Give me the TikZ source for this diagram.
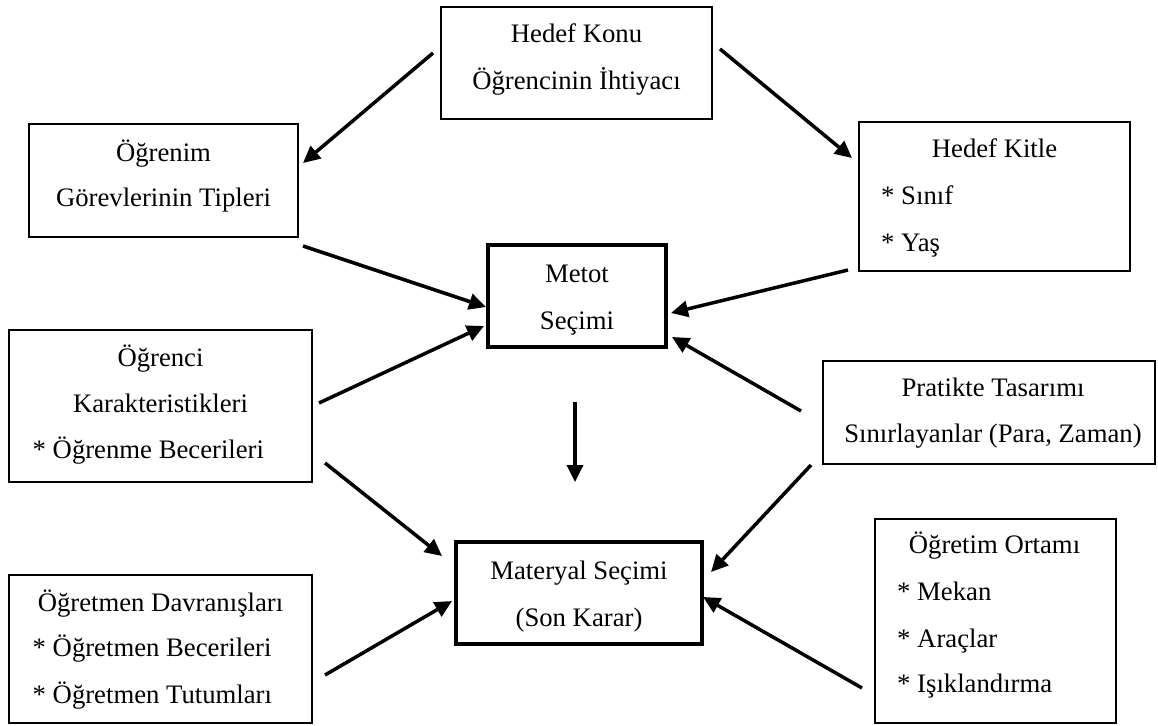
\documentclass[tikz,border=0pt]{standalone}
\usepackage{fontspec}
\setmainfont{Liberation Serif}
\usetikzlibrary{arrows.meta}
\newcommand\myfs{\fontsize{26.7}{32}\selectfont}
\tikzset{
  box/.style={draw, line width=2pt, inner sep=0pt, rectangle},
  thickbox/.style={draw, line width=4pt, inner sep=0pt, rectangle},
  lbl/.style={inner sep=0pt, font=\myfs, anchor=base},
  lbll/.style={inner sep=0pt, font=\myfs, anchor=base west},
  arr/.style={line width=3.5pt, -{Triangle[length=17pt,width=16pt]}}
}
\begin{document}
\begin{tikzpicture}[x=1pt,y=-1pt]
\useasboundingbox (0,0) rectangle (1158,725);
% boxes
\node[box, minimum width=271pt, minimum height=112pt] (konu) at (576.5,63) {};
\node[box, minimum width=269pt, minimum height=113pt] (ogrenim) at (163.5,180.5) {};
\node[box, minimum width=271pt, minimum height=149pt] (kitle) at (994.5,196.5) {};
\node[thickbox, minimum width=178pt, minimum height=102pt] (metot) at (577,296) {};
\node[box, minimum width=303pt, minimum height=152pt] (ogrenci) at (160.5,406) {};
\node[box, minimum width=303pt, minimum height=148pt] (ogretmen) at (160.5,649) {};
\node[thickbox, minimum width=246pt, minimum height=102pt] (materyal) at (579,593) {};
\node[box, minimum width=332pt, minimum height=103pt] (pratik) at (989,412.5) {};
\node[box, minimum width=241pt, minimum height=204pt] (ortam) at (995.5,621) {};
% texts
\node[lbl] (konu1) at (576.5,42) {Hedef Konu};
\node[lbl] (konu2) at (576.5,89) {Öğrencinin İhtiyacı};
\node[lbl] (ogrenim1) at (163.5,161) {Öğrenim};
\node[lbl] (ogrenim2) at (163.5,206) {Görevlerinin Tipleri};
\node[lbl] (kitle1) at (994.5,157) {Hedef Kitle};
\node[lbll] (kitle2) at (881,204) {* Sınıf};
\node[lbll] (kitle3) at (881,251) {* Yaş};
\node[lbl] (metot1) at (577,282) {Metot};
\node[lbl] (metot2) at (577,329) {Seçimi};
\node[lbl] (ogrenci1) at (160.5,366) {Öğrenci};
\node[lbl] (ogrenci2) at (160.5,412) {Karakteristikleri};
\node[lbll] (ogrenci3) at (32.5,458) {* Öğrenme Becerileri};
\node[lbl] (ogretmen1) at (160.5,611) {Öğretmen Davranışları};
\node[lbll] (ogretmen2) at (32.5,656) {* Öğretmen Becerileri};
\node[lbll] (ogretmen3) at (32.5,703) {* Öğretmen Tutumları};
\node[lbl] (materyal1) at (579,579) {Materyal Seçimi};
\node[lbl] (materyal2) at (579,626) {(Son Karar)};
\node[lbl] (pratik1) at (993,396) {Pratikte Tasarımı};
\node[lbl] (pratik2) at (993,442) {Sınırlayanlar (Para, Zaman)};
\node[lbl] (ortam1) at (994.5,553) {Öğretim Ortamı};
\node[lbll] (ortam2) at (897,600) {* Mekan};
\node[lbll] (ortam3) at (897,647) {* Araçlar};
\node[lbll] (ortam4) at (897,692) {* Işıklandırma};
% arrow end points
\coordinate (a1s) at (433,53);  \coordinate (a1e) at (303,163);
\coordinate (a2s) at (720,49);  \coordinate (a2e) at (852,158);
\coordinate (a3s) at (303,246); \coordinate (a3e) at (486,307);
\coordinate (a4s) at (848,270); \coordinate (a4e) at (671,313);
\coordinate (a5s) at (319,403); \coordinate (a5e) at (484,326);
\coordinate (a6s) at (801,411); \coordinate (a6e) at (672,337);
\coordinate (a7s) at (575,402); \coordinate (a7e) at (575,482);
\coordinate (a8s) at (325,463); \coordinate (a8e) at (442,556);
\coordinate (a9s) at (325,675); \coordinate (a9e) at (452,601);
\coordinate (a10s) at (811,465); \coordinate (a10e) at (711,572);
\coordinate (a11s) at (862,688); \coordinate (a11e) at (703,597);
\foreach \i in {1,...,11} { \draw[arr] (a\i s) -- (a\i e); }
\end{tikzpicture}
\end{document}
